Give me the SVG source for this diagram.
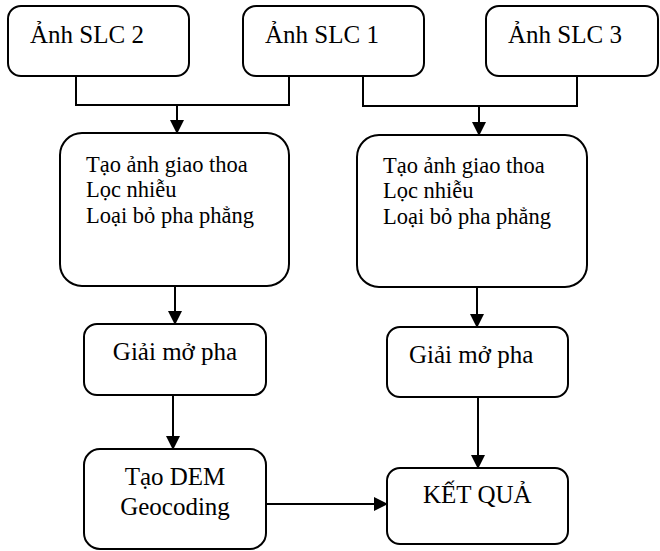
<svg xmlns="http://www.w3.org/2000/svg" width="660" height="551" viewBox="0 0 660 551">
<style>
.box{fill:#fff;stroke:#000;stroke-width:2}
.c{fill:none;stroke:#000;stroke-width:2}
</style>
<defs>
<marker id="ah" viewBox="0 0 14 14" refX="13" refY="7" markerWidth="14" markerHeight="14" markerUnits="userSpaceOnUse" orient="auto">
<path d="M0,0 L14,7 L0,14 Z" fill="#000"/>
</marker>
</defs>
<g id="connectors">
<polyline class="c" points="76,76 76,105 289,105 289,76"/>
<line class="c" x1="177" y1="105" x2="177" y2="133" marker-end="url(#ah)"/>
<polyline class="c" points="363,76 363,106 577,106 577,76"/>
<line class="c" x1="479" y1="106" x2="479" y2="135" marker-end="url(#ah)"/>
<line class="c" x1="175" y1="286" x2="175" y2="324" marker-end="url(#ah)"/>
<line class="c" x1="173" y1="395" x2="173" y2="449" marker-end="url(#ah)"/>
<line class="c" x1="477" y1="287" x2="477" y2="327" marker-end="url(#ah)"/>
<line class="c" x1="478" y1="397" x2="478" y2="468" marker-end="url(#ah)"/>
<line class="c" x1="266" y1="504" x2="387" y2="504" marker-end="url(#ah)"/>
</g>
<g id="slc2">
<rect class="box" x="8" y="6" width="181" height="70" rx="13"/>
<text x="30" y="43" font-family="Times New Roman" font-size="25">Ảnh SLC 2</text>
</g>
<g id="slc1">
<rect class="box" x="243" y="6" width="181" height="70" rx="13"/>
<text x="265" y="43" font-family="Times New Roman" font-size="25">Ảnh SLC 1</text>
</g>
<g id="slc3">
<rect class="box" x="486" y="6" width="172" height="70" rx="13"/>
<text x="508" y="43" font-family="Times New Roman" font-size="25">Ảnh SLC 3</text>
</g>
<g id="proc-left">
<rect class="box" x="60" y="133" width="229" height="153" rx="22"/>
<text x="86" y="172" font-family="Liberation Serif" font-size="22.5">Tạo ảnh giao thoa</text>
<text x="86" y="197" font-family="Liberation Serif" font-size="22.5">Lọc nhiễu</text>
<text x="86" y="223" font-family="Liberation Serif" font-size="22.5">Loại bỏ pha phẳng</text>
</g>
<g id="proc-right">
<rect class="box" x="357" y="135" width="230" height="152" rx="22"/>
<text x="383" y="173" font-family="Liberation Serif" font-size="22.5">Tạo ảnh giao thoa</text>
<text x="383" y="198" font-family="Liberation Serif" font-size="22.5">Lọc nhiễu</text>
<text x="383" y="224" font-family="Liberation Serif" font-size="22.5">Loại bỏ pha phẳng</text>
</g>
<g id="unwrap-left">
<rect class="box" x="84" y="324" width="182" height="71" rx="13"/>
<text x="175" y="360" text-anchor="middle" font-family="Times New Roman" font-size="25">Giải mở pha</text>
</g>
<g id="unwrap-right">
<rect class="box" x="387" y="327" width="181" height="70" rx="13"/>
<text x="409" y="363" font-family="Times New Roman" font-size="25">Giải mở pha</text>
</g>
<g id="dem">
<rect class="box" x="84" y="449" width="182" height="100" rx="16"/>
<text x="175" y="485" text-anchor="middle" font-family="Times New Roman" font-size="25">Tạo DEM</text>
<text x="175" y="515" text-anchor="middle" font-family="Times New Roman" font-size="25">Geocoding</text>
</g>
<g id="result">
<rect class="box" x="387" y="468" width="181" height="76" rx="13"/>
<text x="423" y="503" font-family="Times New Roman" font-size="25">KẾT QUẢ</text>
</g>
</svg>
